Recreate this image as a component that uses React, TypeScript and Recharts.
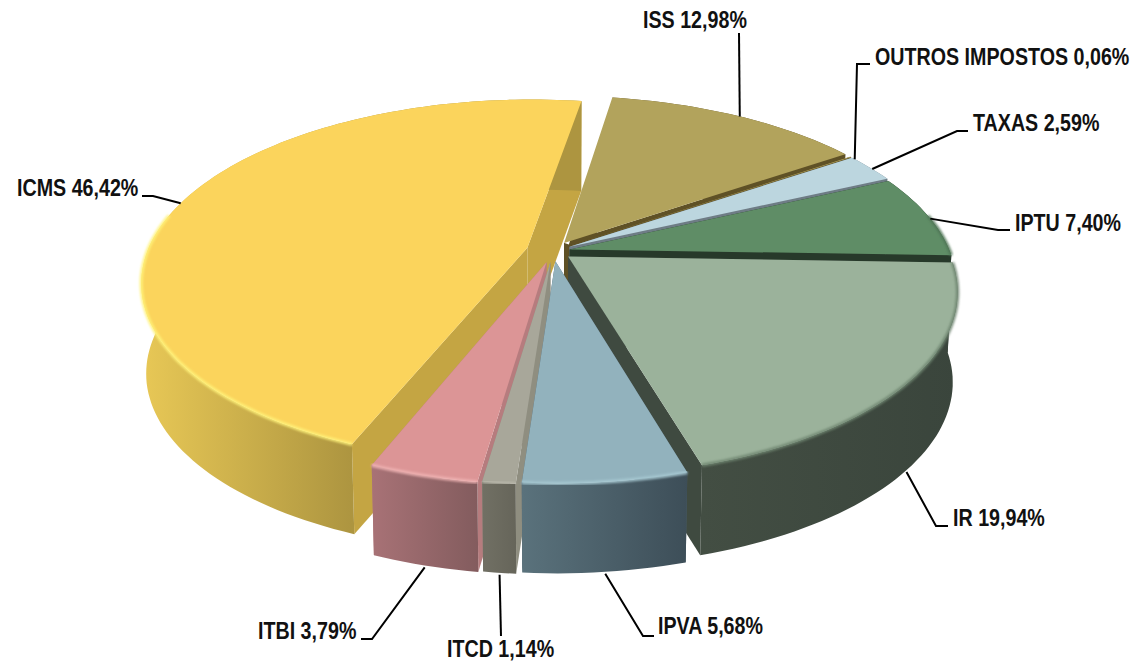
import { Pie, PieChart } from "recharts";

const names = ["ISS", "OUTROS IMPOSTOS", "TAXAS", "IPTU", "IR", "IPVA", "ITCD", "ITBI", "ICMS"];
const shares = [12.98, 0.06, 2.59, 7.4, 19.94, 5.68, 1.14, 3.79, 46.42];

const tableData = names.map((name, i) => ({ name, value: shares[i] }));

// styles per slice, same order as names
const faceColors = ["#B2A35C", "#B2A35C", "#BCD6DF", "#5F8D66", "#9BB29B", "#92B2BD", "#A8A79A", "#DC9596", "#FBD45C"];
const cutColors = ["#5F5126", "#5F5126", "#6E7C85", "#27392A", "#3F4A40", "#4F626C", "#8F8E80", "#B67C7E", "#C4A543"];
const wallLeft = ["#5F5126", "#5F5126", "#6E7C85", "#27392A", "#434E43", "#5A727C", "#717064", "#A87276", "#E8C856"];
const wallRight = ["#5F5126", "#5F5126", "#6E7C85", "#27392A", "#3A453C", "#3D4E58", "#66655A", "#835C5E", "#AD9540"];
const bevelColors = ["#B2A35C", "#B2A35C", "#BCD6DF", "#4F7556", "#6F8570", "#A8CAD4", "#B8B7AA", "#F0B4B4", "#FFF27A"];
const explode = [0.055, 0.05, 0.05, 0.045, 0.05, 0.058, 0.062, 0.065, 0.07];

// back slices first, front slices last
const drawOrder = [0, 1, 2, 3, 8, 4, 7, 6, 5];

// leader elbow / end and the text origin, same order as names
const leaders = [
  { elbow: [739, 33], end: [739, 33], text: [643, 28], wall: false, nudge: -0.5 },
  { elbow: [857, 64], end: [870, 64], text: [875, 65], wall: false, nudge: -1 },
  { elbow: [957, 131], end: [968, 131], text: [973, 131], wall: false, nudge: -0.5 },
  { elbow: [998, 230], end: [1010, 230], text: [1015, 231], wall: false, nudge: -1 },
  { elbow: [936, 526], end: [948, 526], text: [953, 526], wall: true, nudge: 0 },
  { elbow: [643, 636], end: [654, 636], text: [658, 634], wall: true, nudge: 0 },
  { elbow: [501, 636], end: [501, 636], text: [447, 657], wall: true, nudge: 0 },
  { elbow: [372, 639], end: [361, 639], text: [258, 639], wall: true, nudge: 0 },
  { elbow: [153, 196], end: [142, 196], text: [17, 196], wall: false, nudge: 0 },
];

const CX = 553;
const CY = 251;
const RADIUS = 380;
const TILT = 0.465;
const PERSPECTIVE = 0.185;
const DEPTH = 90;
const SHRINK = 0.012;
const RAD = Math.PI / 180;

type Pt = [number, number];

function project(gx: number, gy: number, drop = 0): Pt {
  const s = 1 / (1 + PERSPECTIVE * gy);
  const k = 1 - (SHRINK * drop) / DEPTH;
  return [CX + RADIUS * gx * s * k, CY - RADIUS * TILT * gy * s + drop];
}

function apex(i: number, mid: number): Pt {
  return [Math.cos(mid * RAD) * explode[i], Math.sin(mid * RAD) * explode[i]];
}

function arcPoints(i: number, start: number, end: number, drop = 0): Pt[] {
  const mid = (start + end) / 2;
  const [ax, ay] = apex(i, mid);
  const steps = Math.max(2, Math.ceil(Math.abs(end - start) / 1.5));
  const pts: Pt[] = [];
  for (let n = 0; n <= steps; n++) {
    const a = (start + ((end - start) * n) / steps) * RAD;
    pts.push(project(ax + Math.cos(a), ay + Math.sin(a), drop));
  }
  return pts;
}

const toPath = (pts: Pt[], close = true) =>
  "M" + pts.map((p) => `${p[0].toFixed(1)},${p[1].toFixed(1)}`).join("L") + (close ? "Z" : "");

function Slice({ index, startAngle, endAngle }: any) {
  const mid = (startAngle + endAngle) / 2;
  const [ax, ay] = apex(index, mid);
  const top = arcPoints(index, startAngle, endAngle);
  const bottom = arcPoints(index, startAngle, endAngle, DEPTH);
  const a0 = project(ax, ay);
  const a1 = project(ax, ay, DEPTH);
  const gradId = `wall-${index}`;
  // only the part of the rim that faces the viewer gets the bevel
  const rim = top.filter((_, n) => {
    const a = (startAngle + ((endAngle - startAngle) * n) / (top.length - 1)) * RAD;
    return Math.sin(a) < 0.2;
  });
  const xs = (rim.length > 1 ? rim : top).map((p) => p[0]);
  return (
    <g>
      <defs>
        <linearGradient
          id={gradId}
          gradientUnits="userSpaceOnUse"
          x1={Math.min(...xs)}
          x2={Math.max(...xs)}
          y1={0}
          y2={0}
        >
          <stop offset="0%" stopColor={wallLeft[index]} />
          <stop offset="100%" stopColor={wallRight[index]} />
        </linearGradient>
      </defs>
      <path d={toPath([a0, top[0], bottom[0], a1])} fill={cutColors[index]} />
      <path d={toPath([a0, top[top.length - 1], bottom[bottom.length - 1], a1])} fill={cutColors[index]} />
      <path d={toPath([...top, ...[...bottom].reverse()])} fill={`url(#${gradId})`} />
      {/* ISS sits apart from the ICMS wall behind it */}
      {index === 0 && <path d={toPath([a0, top[0]], false)} stroke="#fff" strokeWidth={10} />}
      <path d={toPath([a0, ...top])} fill={faceColors[index]} />
      {rim.length > 1 && (
        <path
          d={toPath(rim, false)}
          fill="none"
          stroke={bevelColors[index]}
          strokeWidth={3.5}
          strokeOpacity={0.85}
          filter="url(#soft)"
        />
      )}
    </g>
  );
}

function Leader({ index, startAngle, endAngle, midAngle }: any) {
  const slice = (startAngle + endAngle) / 2;
  const l = leaders[index];
  const mid = (midAngle ?? slice) + l.nudge;
  const [ax, ay] = apex(index, slice);
  const from = project(
    ax + Math.cos(mid * RAD),
    ay + Math.sin(mid * RAD),
    l.wall ? DEPTH + 2 : 0,
  );
  const label = `${names[index]} ${shares[index].toFixed(2).replace(".", ",")}%`;
  return (
    <g>
      <polyline
        points={`${from[0]},${from[1]} ${l.elbow[0]},${l.elbow[1]} ${l.end[0]},${l.end[1]}`}
        fill="none"
        stroke="#000"
        strokeWidth={2}
      />
      <text
        transform={`translate(${l.text[0]},${l.text[1]}) scale(0.82,1)`}
        fontFamily="'Liberation Sans', sans-serif"
        fontWeight={700}
        fontSize={24}
        fill="#111"
      >
        {label}
      </text>
    </g>
  );
}

export default function App() {
  return (
    <div style={{ position: "absolute", left: 0, top: 0, background: "#fff" }}>
      <PieChart width={1133} height={663} margin={{ top: 0, right: 0, bottom: 0, left: 0 }}>
        <defs>
          <filter id="soft" x="-10%" y="-10%" width="120%" height="120%">
            <feGaussianBlur stdDeviation="0.9" />
          </filter>
        </defs>
        {drawOrder.map((idx, layer) => (
          <Pie
            key={idx}
            data={tableData}
            dataKey="value"
            nameKey="name"
            cx={CX}
            cy={CY}
            innerRadius={0}
            outerRadius={RADIUS}
            startAngle={81}
            endAngle={-279}
            stroke="none"
            isAnimationActive={false}
            labelLine={false}
            label={layer === drawOrder.length - 1 ? (p: any) => <Leader {...p} /> : false}
            shape={(p: any) => (p.index === idx ? <Slice {...p} /> : <g />)}
          />
        ))}
      </PieChart>
    </div>
  );
}
